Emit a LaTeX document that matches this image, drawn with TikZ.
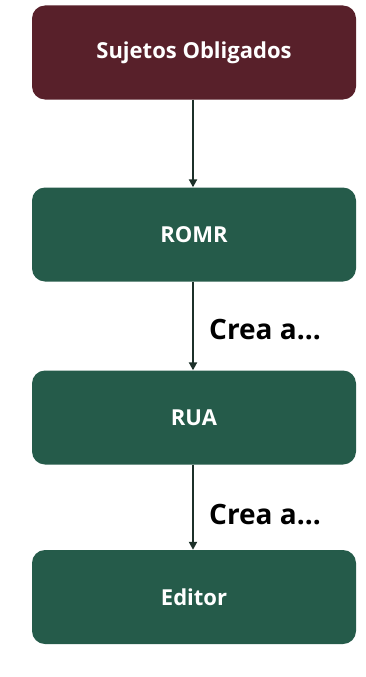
\documentclass[tikz,border=0pt]{standalone}
\usepackage{fontspec}
\setmainfont{Open Sans}
\usetikzlibrary{arrows.meta}
\definecolor{maroon}{HTML}{58202A}
\definecolor{gobgreen}{HTML}{255B4A}
\definecolor{arrowgreen}{HTML}{1C3029}
\begin{document}
\begin{tikzpicture}[x=1pt,y=-1pt,
  boxstyle/.style={rounded corners=13pt, minimum width=324pt, minimum height=94pt,
    text=white, font=\fontsize{22}{26}\selectfont\bfseries, inner sep=0pt},
  conn/.style={draw=arrowgreen, line width=2pt, -{Triangle[length=8pt,width=8pt]}},
  lbl/.style={font=\fontsize{28}{33}\selectfont\bfseries, text=black, anchor=west, inner sep=0pt}]
\useasboundingbox[fill=white] (0,0) rectangle (366,677);
\node[boxstyle, fill=maroon] (so) at (194,52.5) {Sujetos Obligados};
\node[boxstyle, fill=gobgreen] (romr) at (194,234.5) {ROMR};
\node[boxstyle, fill=gobgreen] (rua) at (194,417.5) {RUA};
\node[boxstyle, fill=gobgreen] (ed) at (194,597) {Editor};
\draw[conn] (so.south -| 193,0) -- (romr.north -| 193,0);
\draw[conn] (romr.south -| 193,0) -- (rua.north -| 193,0);
\draw[conn] (rua.south -| 193,0) -- (ed.north -| 193,0);
\node[lbl] (l1) at (209,330) {Crea a...};
\node[lbl] (l2) at (209,515) {Crea a...};
\end{tikzpicture}
\end{document}
